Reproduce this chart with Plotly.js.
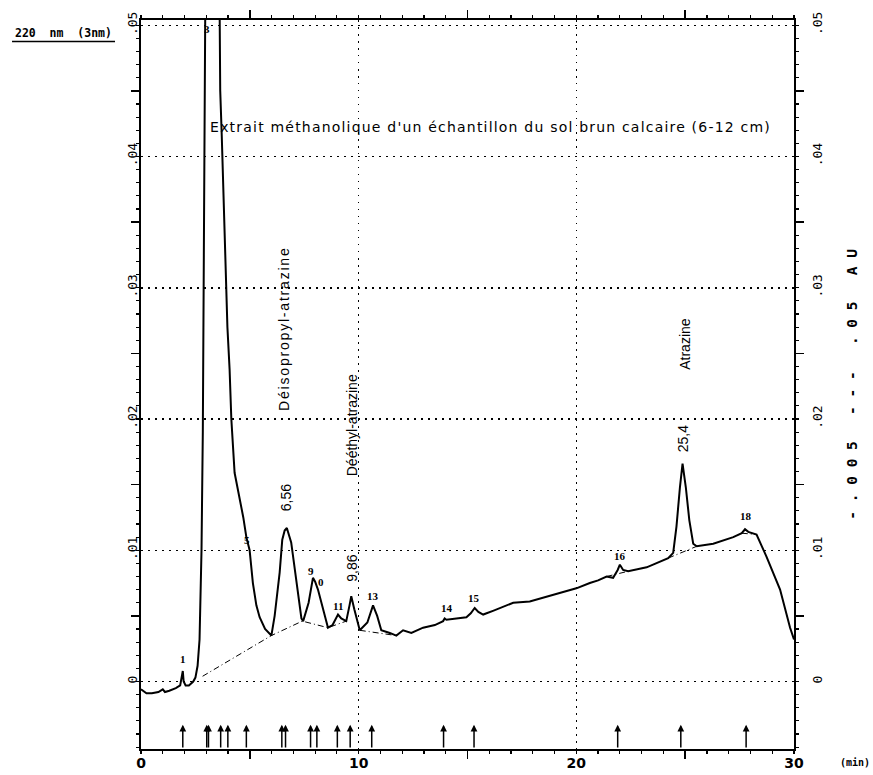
<!DOCTYPE html>
<html>
<head>
<meta charset="utf-8">
<script src="https://cdn.plot.ly/plotly-3.0.1.min.js"></script>
<style>html,body{margin:0;padding:0;background:#fff;}#chart{width:873px;height:775px;}</style>
</head>
<body>
<div id="chart"></div>
<script>
// ---- Chromatogram signal (time in min, absorbance in AU) ----
const timeMin = [0,0.25,0.5,0.8,1.0,1.1,1.3,1.6,1.8,1.88,1.92,1.96,2.05,2.2,2.4,2.5,2.6,2.69,2.78,2.84,2.9,2.95,3.0,3.55,3.6,3.64,3.71,3.8,3.88,3.97,4.07,4.15,4.3,4.53,4.7,4.84,4.99,5.14,5.3,5.45,5.7,5.99,6.14,6.37,6.49,6.6,6.7,6.9,7.13,7.37,7.45,7.7,7.9,8.0,8.13,8.3,8.59,8.8,9.05,9.2,9.43,9.58,9.66,9.8,10.05,10.4,10.66,10.85,11.04,11.43,11.73,12.04,12.42,12.96,13.5,13.88,13.95,14.03,14.5,14.95,15.15,15.33,15.5,15.72,16.2,16.79,17.1,17.86,18.5,19.09,20.0,20.62,21.0,21.39,21.69,21.9,22.0,22.15,22.38,23.23,24.22,24.45,24.6,24.76,24.88,25.03,25.19,25.37,25.53,26.29,27.21,27.6,27.75,27.9,28.28,28.74,29.36,29.82,30.0];
const absorbance = [-0.0006,-0.0009,-0.0009,-0.0008,-0.0006,-0.0008,-0.0007,-0.0005,-0.0003,0.0004,0.0008,0.0000,-0.0003,-0.0003,0.0000,0.0003,0.0012,0.0032,0.010,0.019,0.034,0.050,0.065,0.065,0.050,0.045,0.0416,0.036,0.0308,0.027,0.0238,0.0200,0.0159,0.0141,0.0125,0.0110,0.0100,0.0075,0.0058,0.0049,0.0040,0.0035,0.0050,0.0083,0.0108,0.0115,0.0117,0.0106,0.0077,0.0048,0.0046,0.0060,0.0079,0.0076,0.0070,0.0060,0.0041,0.0043,0.0051,0.0048,0.0046,0.0058,0.0065,0.0055,0.0039,0.0045,0.0058,0.0050,0.0039,0.0037,0.0035,0.0039,0.0037,0.0041,0.0043,0.0046,0.0048,0.0047,0.0048,0.0049,0.0052,0.0056,0.0053,0.0051,0.0054,0.0058,0.0060,0.0061,0.0064,0.0067,0.0071,0.0075,0.0077,0.0080,0.0079,0.0085,0.0089,0.0085,0.0084,0.0087,0.0094,0.0098,0.0118,0.0148,0.0166,0.0148,0.0123,0.0105,0.0103,0.0105,0.0110,0.0113,0.0116,0.0114,0.0112,0.0095,0.0070,0.0041,0.0032];

// ---- Integration baselines (null separates segments) ----
const baseTime = [2.83,5.99,7.41,8.59,9.43,null,10.05,11.73,null,21.39,22.38,null,24.22,25.53,null,27.6,28.28];
const baseAbs  = [0.0004,0.0035,0.0046,0.0041,0.0046,null,0.0039,0.0035,null,0.0080,0.0084,null,0.0094,0.0103,null,0.0113,0.0112];

// ---- Integration event arrows (min) ----
const arrowTimes = [1.92,3.02,3.10,3.66,3.99,4.84,6.47,6.64,7.79,8.08,9.02,9.61,10.6,13.9,15.3,21.9,24.8,27.8];

// ---- Peak labels ----
const peakText = ['1','3','5','6,56','9','0','11','9,86','13','14','15','16','25,4','18'];
const peakT    = [1.91,3.03,4.86,6.64,7.83,8.29,9.03,9.68,10.64,14.08,15.32,21.99,24.88,27.78];
const peakY    = [0.0017,0.0497,0.0108,0.0140,0.0084,0.0076,0.00575,0.00865,0.0065,0.0056,0.0064,0.00956,0.0185,0.0126];
const peakRot  = [0,0,0,-90,0,0,0,-90,0,0,0,0,-90,0];

// ---- Compound names ----
const compoundText = ['Déisopropyl-atrazine','Dééthyl-atrazine','Atrazine'];
const compoundT = [6.59,9.68,25.02];
const compoundY = [0.0269,0.0195,0.0257];
const compoundSpacing = [1.8,0,0];

// ---- Axis ticks ----
const xLabelVals = [0,10,20,30];
const xLabelText = ['0','10','20','30'];
const xLongTicks = [5,15,25];
const yLabelVals = [0,0.01,0.02,0.03,0.04,0.05];
const yLabelText = ['0','.01','.02','.03','.04','.05'];
const yLongTicks = [0.005,0.015,0.025,0.035,0.045];

const titleText = "Extrait méthanolique d'un échantillon du sol brun calcaire (6-12 cm)";
const wavelengthText = '220  nm  (3nm)';
const scaleText = '- . 0 0 5   - - -   . 0 5   A U';
const unitText = '(min)';

const yRange = [-0.005143, 0.0504];
const xRange = [0, 30];

const traces = [
  {x: timeMin, y: absorbance, type:'scatter', mode:'lines',
   line:{color:'#000', width:2}, hoverinfo:'skip', showlegend:false},
  {x: baseTime, y: baseAbs, type:'scatter', mode:'lines', connectgaps:false,
   line:{color:'#000', width:1, dash:'6px,3px,1px,3px'}, hoverinfo:'skip', showlegend:false},
  {x:[xRange[0]], y:[0], xaxis:'x2', yaxis:'y2', type:'scatter', mode:'markers',
   marker:{opacity:0}, hoverinfo:'skip', showlegend:false},
  {x:[xRange[0]], y:[0], xaxis:'x2', yaxis:'y3', type:'scatter', mode:'markers',
   marker:{opacity:0}, hoverinfo:'skip', showlegend:false}
];

const tickFont = {family:'DejaVu Sans Mono', size:13, color:'#000'};
const annotations = [];

arrowTimes.forEach(t => annotations.push({
  x:t, y:-0.0033, xref:'x', yref:'y', ax:t, ay:yRange[0], axref:'x', ayref:'y',
  text:'', showarrow:true, arrowhead:2, arrowsize:0.9, arrowwidth:1.5, arrowcolor:'#000', standoff:0
}));

peakText.forEach((s,i) => annotations.push({
  x:peakT[i], y:peakY[i], xref:'x', yref:'y', text:s, showarrow:false,
  xanchor:'center', yanchor:'middle', textangle:peakRot[i],
  font: peakRot[i] ? {family:'Liberation Sans', size:14, color:'#000'}
                   : {family:'Liberation Serif', size:11, color:'#000', weight:700}
}));

compoundText.forEach((s,i) => annotations.push({
  x:compoundT[i], y:compoundY[i], xref:'x', yref:'y',
  text: compoundSpacing[i] ? '<span style="letter-spacing:'+compoundSpacing[i]+'px">'+s+'</span>' : s,
  showarrow:false, xanchor:'center', yanchor:'middle',
  textangle:-90, font:{family:'Liberation Sans', size:14, color:'#000'}
}));

annotations.push({x:1.0884, y:0.5007, xref:'paper', yref:'paper', text:scaleText,
  xanchor:'center', yanchor:'middle',
  showarrow:false, textangle:-90, font:{family:'DejaVu Sans Mono', size:14.5, color:'#000', weight:700}});
annotations.push({x:-0.1187, y:0.9822, xref:'paper', yref:'paper', text:wavelengthText,
  xanchor:'center', yanchor:'middle',
  showarrow:false, font:{family:'DejaVu Sans Mono', size:11.5, color:'#000', weight:700}});
annotations.push({x:1.093, y:-0.0192, xref:'paper', yref:'paper', text:unitText,
  xanchor:'center', yanchor:'middle',
  showarrow:false, font:{family:'DejaVu Sans Mono', size:10, color:'#000', weight:700}});

const gridDash = '1.5px,5.5px';

const layout = {
  width:873, height:775,
  margin:{l:141, r:79, t:20, b:26},
  paper_bgcolor:'#fff', plot_bgcolor:'#fff',
  showlegend:false,
  title:{text:'<span style="letter-spacing:1.2px">'+titleText+'</span>',
         x:490.5/873, y:1-127/775, xanchor:'center', yanchor:'middle', xref:'container', yref:'container',
         font:{family:'DejaVu Sans', size:14, color:'#000'}},
  xaxis:{range:xRange, showline:true, linecolor:'#000', linewidth:2, mirror:'ticks',
         ticks:'outside', tickvals:xLongTicks, ticklen:8, tickwidth:1.5, tickcolor:'#000',
         showticklabels:false, showgrid:false, zeroline:false,
         minor:{dtick:1, ticks:'outside', ticklen:3, tickwidth:1.2, tickcolor:'#000', showgrid:false}},
  xaxis2:{range:xRange, overlaying:'x', side:'bottom', showline:false, ticks:'',
          tickvals:xLabelVals, ticktext:xLabelText, zeroline:false, ticklabelstandoff:4,
          showgrid:true, gridcolor:'#000', gridwidth:1.5, griddash:gridDash,
          tickfont:{family:'DejaVu Sans', size:14, color:'#000', weight:700}},
  yaxis:{range:yRange, showline:true, linecolor:'#000', linewidth:2, mirror:'ticks',
         ticks:'outside', tickvals:yLongTicks, ticklen:8, tickwidth:1.5, tickcolor:'#000',
         showticklabels:false, showgrid:false, zeroline:false,
         minor:{dtick:0.001, ticks:'outside', ticklen:3, tickwidth:1.2, tickcolor:'#000', showgrid:false}},
  yaxis2:{range:yRange, overlaying:'y', side:'left', showline:false, ticks:'',
          tickvals:yLabelVals, ticktext:yLabelText, tickangle:-90, zeroline:false,
          showgrid:true, gridcolor:'#000', gridwidth:1.5, griddash:gridDash, tickfont:tickFont},
  yaxis3:{range:yRange, overlaying:'y', side:'right', showline:false, ticks:'',
          tickvals:yLabelVals, ticktext:yLabelText, tickangle:-90, zeroline:false,
          showgrid:false, tickfont:tickFont, ticklabelstandoff:14},
  annotations: annotations,
  shapes:[{type:'line', xref:'paper', yref:'paper', x0:-0.1975, x1:-0.0398, y0:0.9705, y1:0.9705,
           line:{color:'#000', width:1.5}}]
};

Plotly.newPlot('chart', traces, layout, {staticPlot:true, displayModeBar:false});
</script>
</body>
</html>
